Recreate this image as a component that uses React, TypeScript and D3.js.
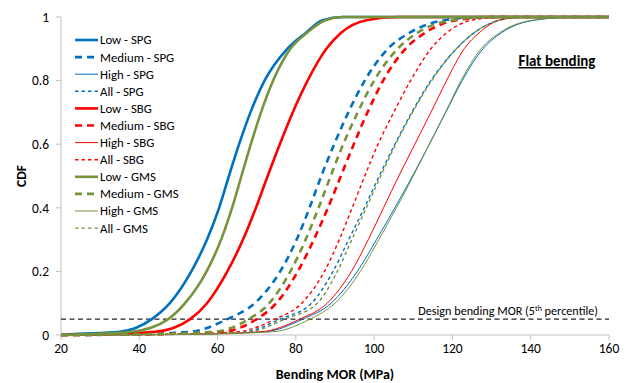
import React from "react";
import * as d3 from "d3";

const W = 628;
const H = 383;

// CDF levels at which the MOR values are read
const cdfLevels = [0, 0.002, 0.01, 0.05, 0.1, 0.2, 0.3, 0.4, 0.5, 0.6, 0.7, 0.8, 0.9, 0.95, 0.99, 1];

// MOR (MPa) at each CDF level
const lowSPG = [20, 22, 35, 43.2, 47.8, 53.3, 57.3, 60.4, 62.9, 65.5, 68.4, 72, 77.8, 82.5, 86.8, 92];
const mediumSPG = [20, 35, 53, 62.5, 69.5, 76, 80.2, 83.5, 86.5, 89.8, 93.4, 97.6, 103.5, 109, 118, 128];
const highSPG = [20, 50, 72, 81.8, 89, 95.7, 100.6, 105.3, 109.8, 114.1, 118.3, 122.5, 127.8, 132.5, 141, 152];
const allSPG = [20, 48, 67, 76, 84, 89.5, 93.5, 97.5, 101.3, 105.3, 109.6, 114.5, 121, 125.5, 132, 138];
const lowSBG = [20, 28, 44, 53, 57.3, 62.5, 66.5, 69.8, 72.8, 75.9, 79.2, 83, 87.8, 91.5, 98, 106];
const mediumSBG = [20, 42, 61, 70, 75, 80.5, 84.6, 88.2, 91.5, 94.8, 98.3, 102.3, 108, 113, 121, 132];
const highSBG = [20, 50, 71, 81, 88, 94.2, 98.5, 102.4, 106.3, 110.4, 114.5, 118.5, 123, 126.8, 132, 138];
const allSBG = [20, 45, 65, 74.7, 81.5, 87.3, 91.1, 94.4, 97.6, 101, 105, 109.3, 114.5, 118.5, 125, 133];
const lowGMS = [20, 25, 38, 47.4, 51.7, 57.2, 60.9, 63.7, 66.1, 68.5, 71.1, 74.2, 78.6, 82.8, 87.5, 92];
const mediumGMS = [20, 40, 59, 68, 73.2, 78.6, 82.5, 85.8, 88.9, 92.1, 95.8, 100, 106, 111, 120, 130];
const highGMS = [20, 52, 74, 83.6, 90, 96.5, 101.2, 105.7, 110, 114.1, 118.2, 122.2, 127.3, 132, 140.5, 152];
const allGMS = [20, 50, 68, 77.2, 85.5, 90.6, 94.3, 98, 101.7, 105.5, 109.8, 114.7, 121, 125.5, 132, 138];

const seriesNames = [
  "Low - SPG", "Medium - SPG", "High - SPG", "All - SPG",
  "Low - SBG", "Medium - SBG", "High - SBG", "All - SBG",
  "Low - GMS", "Medium - GMS", "High - GMS", "All - GMS",
];
const seriesValues = [
  lowSPG, mediumSPG, highSPG, allSPG,
  lowSBG, mediumSBG, highSBG, allSBG,
  lowGMS, mediumGMS, highGMS, allGMS,
];

const xTicks = [20, 40, 60, 80, 100, 120, 140, 160];
const yTicks = [0, 0.2, 0.4, 0.6, 0.8, 1];
const designLevel = 0.05;

const groupColors: Record<string, string> = {
  SPG: "#0070C0",
  SBG: "#FF0000",
  GMS: "#77933C",
};

function styleFor(name: string) {
  const [level, group] = name.split(" - ");
  const color = groupColors[group];
  if (level === "Low") return { color, width: 2.6, dash: "none" };
  if (level === "Medium") return { color, width: 2.6, dash: "7,5" };
  if (level === "High") return { color, width: 1, dash: "none" };
  return { color, width: 1.4, dash: "3.5,3" };
}

const FONT = "Carlito, Calibri, Lato, 'Open Sans', sans-serif";

export default function App() {
  const x = d3.scaleLinear().domain([20, 160]).range([61, 609]);
  const y = d3.scaleLinear().domain([0, 1]).range([335, 17]);

  const line = d3
    .line<[number, number]>()
    .x((d) => x(d[0]))
    .y((d) => y(d[1]))
    .curve(d3.curveMonotoneX);

  const axisColor = "#BFBFBF";
  const legendX0 = 75;
  const legendX1 = 98;
  const legendY0 = 40;
  const legendStep = 17.1;

  return (
    <svg
      width={W}
      height={H}
      style={{ position: "absolute", left: 0, top: 0, background: "#fff" }}
      fontFamily={FONT}
    >
      <rect x={0} y={0} width={W} height={H} fill="#fff" />
      {/* axes */}
      <line x1={x(20)} x2={x(20)} y1={y(1)} y2={y(0)} stroke={axisColor} strokeWidth={1} />
      <line x1={x(20)} x2={x(160)} y1={y(0)} y2={y(0)} stroke={axisColor} strokeWidth={1} />
      {yTicks.map((t) => (
        <g key={"yt" + t}>
          <line x1={x(20) - 5} x2={x(20)} y1={y(t)} y2={y(t)} stroke={axisColor} />
          <text x={49} y={y(t)} dy="0.35em" textAnchor="end" fontSize={13.5} fill="#000">
            {d3.format("~g")(t)}
          </text>
        </g>
      ))}
      {xTicks.map((t) => (
        <g key={"xt" + t}>
          <line x1={x(t)} x2={x(t)} y1={y(0)} y2={y(0) + 5} stroke={axisColor} />
          <text x={x(t)} y={353} textAnchor="middle" fontSize={13.5} fill="#000">
            {t}
          </text>
        </g>
      ))}
      <text x={(x(20) + x(160)) / 2} y={379} textAnchor="middle" fontSize={14} fontWeight="bold" fill="#000">
        Bending MOR (MPa)
      </text>
      <text
        transform={`translate(26,${(y(0) + y(1)) / 2}) rotate(-90)`}
        textAnchor="middle"
        fontSize={13.5}
        fontWeight="bold"
        fill="#000"
      >
        CDF
      </text>

      {/* design line */}
      <line
        x1={x(20)}
        x2={x(160)}
        y1={y(designLevel)}
        y2={y(designLevel)}
        stroke="#222"
        strokeWidth={1.4}
        strokeDasharray="5,3.5"
      />
      <text x={598} y={315} textAnchor="end" fontSize={12.2} fill="#000">
        Design bending MOR (5
        <tspan dy={-4} fontSize={8}>th</tspan>
        <tspan dy={4}> percentile)</tspan>
      </text>

      {/* curves */}
      {seriesNames.map((name, i) => {
        const st = styleFor(name);
        const pts: [number, number][] = seriesValues[i].map((v, j) => [v, cdfLevels[j]]);
        pts.push([160, 1]);
        return (
          <path
            key={name}
            d={line(pts) || ""}
            fill="none"
            stroke={st.color}
            strokeWidth={st.width}
            strokeDasharray={st.dash}
          />
        );
      })}

      {/* legend */}
      {seriesNames.map((name, i) => {
        const st = styleFor(name);
        const ly = legendY0 + i * legendStep;
        return (
          <g key={"lg" + name}>
            <line
              x1={legendX0}
              x2={legendX1}
              y1={ly}
              y2={ly}
              stroke={st.color}
              strokeWidth={st.width}
              strokeDasharray={st.dash === "none" ? undefined : st.dash}
            />
            <text x={legendX1 + 2} y={ly} dy="0.35em" fontSize={12.8} fill="#000">
              {name}
            </text>
          </g>
        );
      })}

      <text x={557} y={66} textAnchor="middle" fontSize={15} fontWeight="bold" fill="#000" textDecoration="underline">
        Flat bending
      </text>
    </svg>
  );
}
